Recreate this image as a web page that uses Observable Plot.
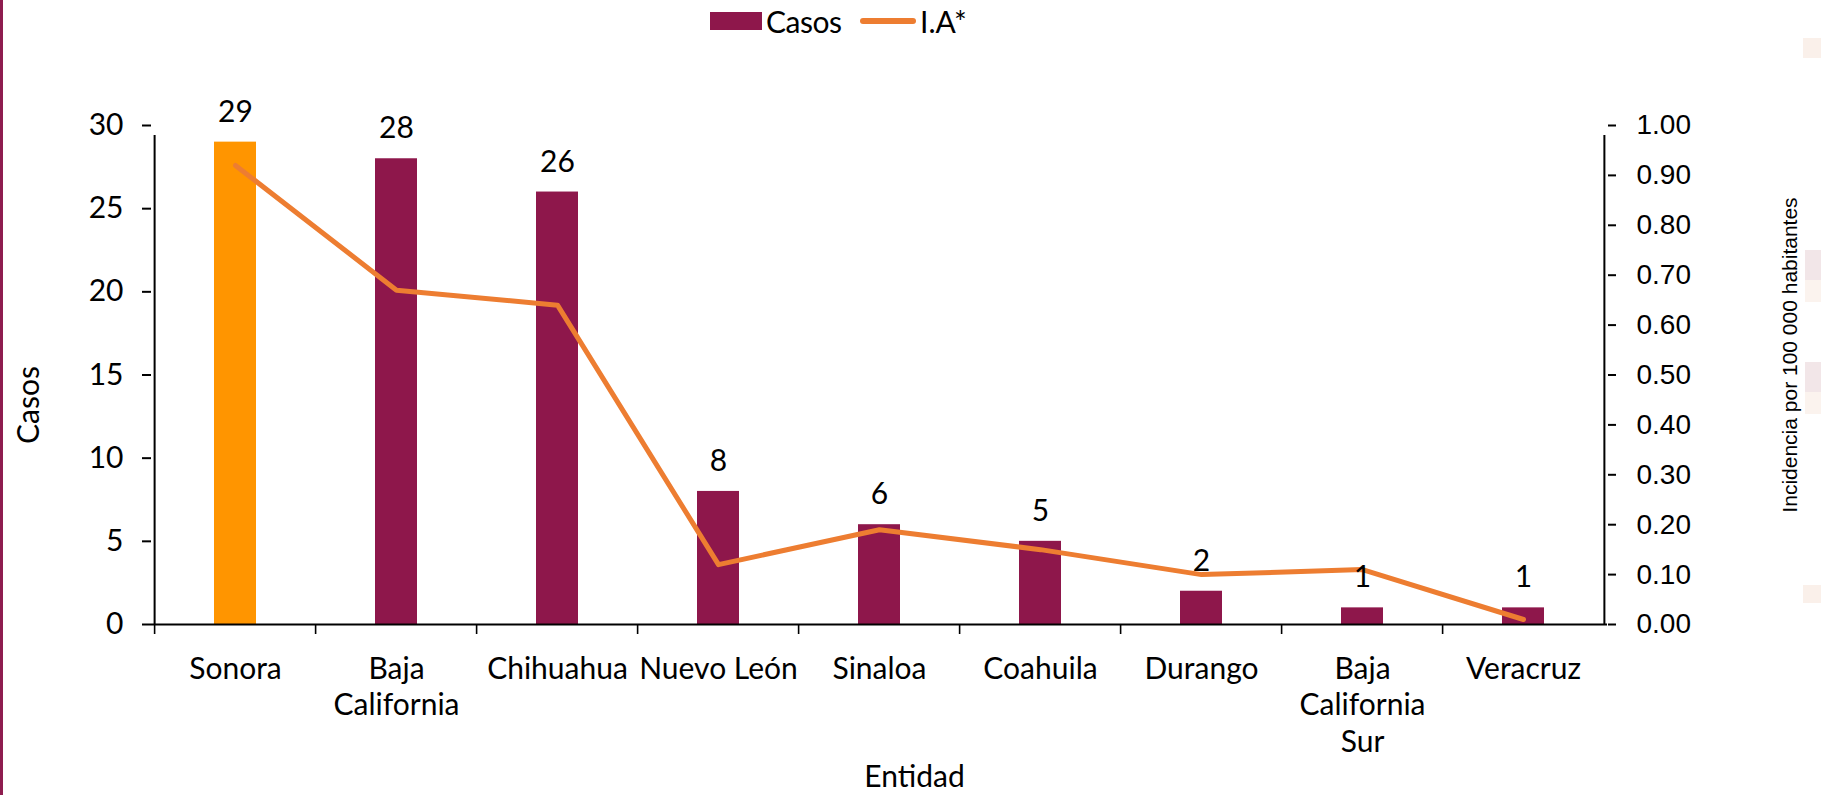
<!DOCTYPE html>
<html>
<head>
<meta charset="utf-8">
<script src="https://cdn.jsdelivr.net/npm/d3@7"></script>
<script src="https://cdn.jsdelivr.net/npm/@observablehq/plot@0.6"></script>
<style>
  body { margin: 0; background: #fff; }
  #wrap { position: relative; width: 1821px; height: 798px; overflow: hidden; font-family: Lato, sans-serif; color: #000; }
  #border { position: absolute; left: 0; top: 0; width: 3px; height: 795px; background: #8E1D4F; }
  #legend { position: absolute; left: 0; top: 0; width: 1821px; height: 42px; font-size: 30px; }
  #legend > * { position: absolute; }
  #legend .sw { left: 710px; top: 12px; width: 52px; height: 18px; background: #8E174B; }
  #legend .ln { left: 860px; top: 18px; width: 56px; height: 6px; border-radius: 3px; background: #ED7D31; }
  #legend .t1 { left: 766px; top: 0; line-height: 42px; letter-spacing: -0.5px; }
  #legend .t2 { left: 920px; top: 0; line-height: 42px; }
  .deco { position: absolute; }
  #chart { position: absolute; left: 0; top: 40px; }
</style>
</head>
<body>
<div id="wrap">
  <div id="border"></div>
  <div class="deco" style="left:1803px;top:38px;width:18px;height:20px;background:#FAF0EA"></div>
  <div class="deco" style="left:1805px;top:250px;width:16px;height:30px;background:#F2E6E8"></div>
  <div class="deco" style="left:1805px;top:280px;width:16px;height:22px;background:#FBF3EE"></div>
  <div class="deco" style="left:1805px;top:362px;width:16px;height:30px;background:#F2E6E8"></div>
  <div class="deco" style="left:1805px;top:392px;width:16px;height:22px;background:#FBF3EE"></div>
  <div class="deco" style="left:1803px;top:585px;width:18px;height:18px;background:#FAF0EA"></div>
  <div id="legend">
    <div class="sw"></div><span class="t1">Casos</span>
    <div class="ln"></div><span class="t2">I.A*</span>
  </div>
  <div id="chart"></div>
</div>
<script>
const entidades = ["Sonora", "Baja California", "Chihuahua", "Nuevo León", "Sinaloa", "Coahuila", "Durango", "Baja California Sur", "Veracruz"];
const etiquetas = ["Sonora", "Baja\nCalifornia", "Chihuahua", "Nuevo León", "Sinaloa", "Coahuila", "Durango", "Baja\nCalifornia\nSur", "Veracruz"];
const casos = [29, 28, 26, 8, 6, 5, 2, 1, 1];
const incidencia = [0.92, 0.67, 0.64, 0.12, 0.19, 0.15, 0.10, 0.11, 0.01];
const casosTicks = [0, 5, 10, 15, 20, 25, 30];
const iaTicks = [0, 0.1, 0.2, 0.3, 0.4, 0.5, 0.6, 0.7, 0.8, 0.9, 1.0];
const destacado = "Sonora";

const colorCasos = "#8E174B";
const colorDestacado = "#FF9500";
const colorLinea = "#ED7D31";

const data = entidades.map((e, i) => ({entidad: e, etiqueta: etiquetas[i], casos: casos[i], ia: incidencia[i]}));

const W = 1821, H = 758;
const mL = 151, mR = 214, mT = 85, mB = 174;
const casosMax = casosTicks[casosTicks.length - 1];
const iaMax = iaTicks[iaTicks.length - 1];
const k = casosMax / iaMax;
const step = (W - mL - mR) / entidades.length;

const chart = Plot.plot({
  width: W, height: H,
  marginLeft: mL, marginRight: mR, marginTop: mT, marginBottom: mB,
  style: {fontFamily: "Lato, sans-serif", fontSize: "30px", color: "#000", background: "transparent"},
  x: {domain: entidades, paddingInner: 0.74, paddingOuter: 0.37, axis: null},
  y: {domain: [0, casosMax], axis: null},
  marks: [
    Plot.barY(data, {x: "entidad", y: "casos", fill: d => d.entidad === destacado ? colorDestacado : colorCasos}),
    Plot.ruleY([0], {stroke: "#000", strokeWidth: 2}),
    Plot.ruleX(entidades, {x: d => d, y1: 0, y2: 0, insetBottom: -10, dx: -step / 2, stroke: "#000", strokeWidth: 1.6}),
    Plot.ruleX([entidades[0]], {x: d => d, y1: 0, y2: casosMax, insetBottom: -10, dx: -step / 2, stroke: "#000", strokeWidth: 2}),
    Plot.ruleX([entidades[entidades.length - 1]], {x: d => d, y1: 0, y2: casosMax, insetBottom: -10, dx: step / 2, stroke: "#000", strokeWidth: 2}),
    Plot.axisY(casosTicks, {anchor: "left", tickSize: 9, tickPadding: 19, fontSize: 30, stroke: "#000", strokeWidth: 2, label: null}),
    Plot.axisY(iaTicks.map(t => t * k), {anchor: "right", tickSize: 8, tickPadding: 21, fontSize: 28, fontFamily: "Liberation Sans, Arial, sans-serif", stroke: "#000", strokeWidth: 2, tickFormat: d => (d / k).toFixed(2), label: null}),
    Plot.line(data, {x: "entidad", y: d => d.ia * k, stroke: colorLinea, strokeWidth: 5, strokeLinejoin: "round"}),
    Plot.text(data, {x: "entidad", y: "casos", text: d => String(d.casos), dy: -30, fontSize: 30, fill: "#000"}),
    Plot.text(data, {x: "entidad", y: 0, text: "etiqueta", lineAnchor: "top", dy: 28, lineHeight: 1.22, fontSize: 30, fill: "#000"}),
    Plot.text(["Casos"], {frameAnchor: "left", text: d => d, rotate: -90, textAnchor: "middle", dx: -122, dy: 30, fontSize: 30, fill: "#000"}),
    Plot.text(["Incidencia por 100 000 habitantes"], {frameAnchor: "right", text: d => d, rotate: -90, textAnchor: "middle", dx: 183, dy: -20, fontSize: 21, fontFamily: "Liberation Sans, Arial, sans-serif", fill: "#000"}),
    Plot.text(["Entidad"], {frameAnchor: "bottom", text: d => d, dx: 35, dy: 162, fontSize: 30, fill: "#000"})
  ]
});
document.getElementById("chart").appendChild(chart);
</script>
</body>
</html>
